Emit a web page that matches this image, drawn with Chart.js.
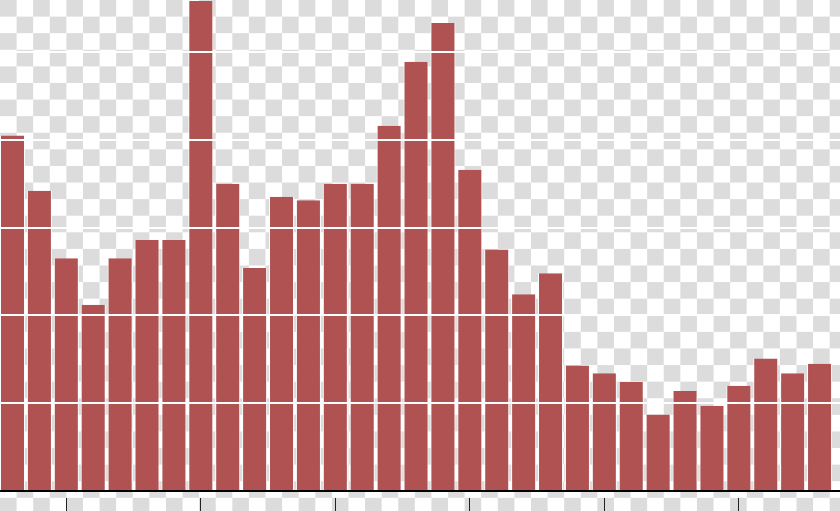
<!DOCTYPE html>
<html>
<head>
<meta charset="utf-8">
<script src="https://cdn.jsdelivr.net/npm/chart.js@4/dist/chart.umd.min.js"></script>
<style>
  html, body { margin: 0; padding: 0; }
  body {
    width: 840px;
    height: 511px;
    overflow: hidden;
    /* transparent-look checkerboard behind the chart */
    background: repeating-conic-gradient(#ffffff 0 25%, #dcdcdc 0 50%) 0 0 / 33.2px 33.2px;
  }
  #wrap { position: relative; width: 840px; height: 511px; }
</style>
</head>
<body>
<div id="wrap"><canvas id="chart"></canvas></div>
<script>
// bar positions (category index) and heights
const categories = [0, 1, 2, 3, 4, 5, 6, 7, 8, 9, 10, 11, 12, 13, 14, 15,
                    16, 17, 18, 19, 20, 21, 22, 23, 24, 25, 26, 27, 28, 29, 30];
const values = [4.05, 3.42, 2.65, 2.12, 2.65, 2.86, 2.86, 5.58, 3.50, 2.54,
                3.35, 3.31, 3.50, 3.50, 4.16, 4.89, 5.33, 3.66, 2.75, 2.24,
                2.48, 1.43, 1.34, 1.24, 0.87, 1.14, 0.97, 1.20, 1.51, 1.34, 1.45];
// x positions that carry a tick mark, and the y gridline values
const xTicks = [2, 7, 12, 17, 22, 27];
const yTicks = [0, 1, 2, 3, 4, 5];

const ctx = document.getElementById('chart').getContext('2d');
new Chart(ctx, {
    type: 'bar',
    data: {
        datasets: [{
            data: categories.map((c, i) => ({ x: c, y: values[i] })),
            backgroundColor: '#b05252',
            borderColor: '#ffffff',
            borderWidth: { left: 1, right: 1, top: 0, bottom: 0 },
            borderSkipped: false,
            barPercentage: 0.93,
            categoryPercentage: 1
        }]
    },
    options: {
        responsive: true,
        maintainAspectRatio: false,
        animation: false,
        devicePixelRatio: 1,
        layout: { padding: 0 },
        plugins: {
            legend: { display: false },
            tooltip: { enabled: false }
        },
        scales: {
            x: {
                type: 'linear',
                offset: false,
                min: -0.465,
                max: 30.76,
                afterBuildTicks: scale => {
                    scale.ticks = xTicks.map(v => ({ value: v }));
                },
                ticks: { display: false },
                grid: {
                    offset: false,
                    drawOnChartArea: false,
                    drawTicks: true,
                    tickLength: 20,
                    tickWidth: 1,
                    tickColor: '#222',
                    tickBorderDash: [0, 6, 30, 0]
                },
                border: { display: true, color: '#000', width: 2, z: 1 }
            },
            y: {
                min: 0,
                max: 5.592,
                afterBuildTicks: scale => {
                    scale.ticks = yTicks.map(v => ({ value: v }));
                },
                ticks: { display: false },
                grid: {
                    drawTicks: false,
                    lineWidth: 2,
                    z: 1,
                    color: c => (c.tick && c.tick.value === 0) ? 'rgba(0,0,0,0)' : '#ffffff'
                },
                border: { display: false }
            }
        }
    }
});
</script>
</body>
</html>
